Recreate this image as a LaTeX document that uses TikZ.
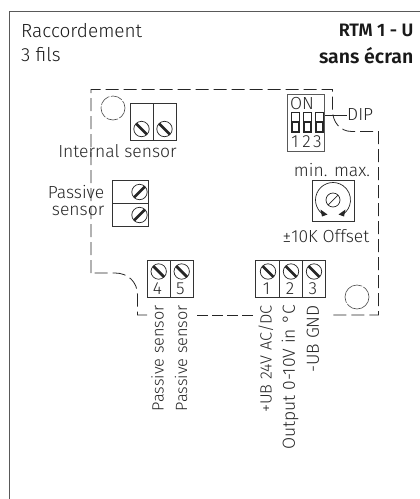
\documentclass[tikz,border=0pt]{standalone}
\usepackage{fontspec}
\setmainfont{Fira Sans Light}[BoldFont=Fira Sans SemiBold]
\begin{document}
\begin{tikzpicture}[x=1pt,y=-1pt,
  lab/.style={font=\fontsize{17.5}{20}\selectfont,text=black!85,inner sep=0pt},
  title/.style={font=\fontsize{19}{21}\selectfont,text=black!90,inner sep=0pt},
  bold/.style={font=\fontsize{18}{20}\selectfont\bfseries,text=black!90,inner sep=0pt},
  boldb/.style={font=\fontsize{19.5}{21}\selectfont\bfseries,text=black!90,inner sep=0pt},
  vlab/.style={lab,rotate=90,anchor=east},
  vlabs/.style={font=\fontsize{16.3}{18}\selectfont,text=black!85,inner sep=0pt,rotate=90,anchor=east},
  term/.style={draw=black!80,line width=0.7pt},
  dashline/.style={draw=black!85,line width=0.8pt,dash pattern=on 13pt off 5pt},
  thinline/.style={draw=black!70,line width=0.6pt}]
\useasboundingbox (0,0) rectangle (420,499);
% frame
\draw[draw=black!65,line width=1pt] (9.7,499) -- (9.7,11.5) -- (420,11.5);
% texts
\node[title,anchor=west] (t1) at (21,30.5) {Raccordement};
\node[title,anchor=west] (t2) at (21,54.5) {3 fils};
\node[bold,anchor=east] (t3) at (413.5,30.5) {RTM 1 - U};
\node[boldb,anchor=east] (t4) at (413.5,55.5) {sans écran};
% housing
\draw[dashline] (91,273) -- (91,89.5) -- (332.5,89.5) -- (332.5,110)
  .. controls (332.5,122) and (340,131.5) .. (352,131.5) -- (378.5,131.5) -- (378.5,315) -- (332,315);
\draw[dashline,dash pattern=on 11pt off 4pt] (253,315) -- (197,315);
\draw[dashline] (147,315) -- (137.5,315) -- (137.5,295)
  .. controls (137.5,282) and (128,273) .. (115,273) -- (91,273);
\draw[thinline,dash pattern=on 12pt off 1.5pt] (113,108) circle (12);
\draw[thinline,dash pattern=on 30pt off 1.5pt] (357,297) circle (12);
\newcommand{\myscrew}[3]{%
  \draw[draw=black!85,line width=0.7pt] (#1,#2) circle (7.7);
  \draw[draw=black!85,line width=2.8pt] (#1,#2) ++(#3:7.7) -- ++(#3+180:15.4);}
% internal sensor
\draw[term] (130,103.5) rectangle (176,140); \draw[term] (153,103.5) -- (153,140);
\myscrew{141.5}{129}{-135}\myscrew{164.5}{129}{-135}
\node[lab] (n1) at (117.5,151) {Internal sensor};
% passive
\draw[term] (112.5,180) rectangle (148.5,226); \draw[term] (112.5,203) -- (148.5,203);
\myscrew{139.5}{192}{-45}\myscrew{139.5}{215}{-45}
\node[lab,anchor=east] (n2) at (104.5,192) {Passive};
\node[lab,anchor=east] (n3) at (104.5,211) {sensor};
% terminals 4 5
\draw[term] (147.5,260) rectangle (193.5,297); \draw[term] (170.5,260) -- (170.5,297);
\myscrew{158.7}{271.5}{-135}\myscrew{181.7}{271.5}{-135}
\node[lab] (k4) at (157.5,288.5) {4};
\node[lab] (k5) at (180.5,288.5) {5};
\node[vlabs] (v4) at (157.5,305) {Passive sensor};
\node[vlabs] (v5) at (181,305) {Passive sensor};
% terminals 1 2 3
\draw[term] (255.5,260) rectangle (325,297); \draw[term] (279,260) -- (279,297); \draw[term] (302,260) -- (302,297);
\myscrew{268}{271.5}{-135}\myscrew{291}{271.5}{-135}\myscrew{314}{271.5}{-135}
\node[lab] (k1) at (266.5,288.5) {1};
\node[lab] (k2) at (290,288.5) {2};
\node[lab] (k3) at (313,288.5) {3};
\node[vlabs] (v1) at (266,305) {+UB 24V AC/DC};
\node[vlab] (v2) at (290,305) {Output 0-10V in °C};
\node[vlab] (v3) at (313,305) {-UB GND};
% DIP
\draw[draw=black!65,line width=0.8pt] (287,94) rectangle (324,151);
\node[lab] (on) at (302,104) {ON};
\foreach \x in {291.5,303.5,315.5}{
  \draw[draw=black!85,line width=0.8pt] (\x,112) rectangle (\x+7.5,132);
  \draw[draw=black!85,line width=2pt] (\x,122) rectangle (\x+7.5,132);
}
\node[lab] (d1) at (295,142) {1};
\node[lab] (d2) at (306.5,142) {2};
\node[lab] (d3) at (317.5,142) {3};
\coordinate (dipa) at (325,115);
\node[lab,anchor=west] (dipl) at (347,115) {DIP};
\draw[draw=black!85,line width=0.6pt] (dipa) -- (dipl.west);
% pot
\node[lab] (mm) at (332,170) {min. max.};
\draw[draw=black!80,line width=0.8pt] (312.5,180) rectangle (354,221);
\draw[draw=black!85,line width=0.7pt] (333,200) ++(125:17.5) arc (125:415:17.5);
\draw[draw=black!85,line width=0.7pt] (333,200) circle (7);
\draw[draw=black!85,line width=0.7pt] (328,205) -- (338,195);
\fill[black!85] (320.5,209.5) -- (327.5,214.5) -- (322,216.5) -- cycle;
\fill[black!85] (345.5,209.5) -- (338.5,214.5) -- (344,216.5) -- cycle;
\node[lab] (off) at (326,236) {±10K Offset};
\end{tikzpicture}
\end{document}
